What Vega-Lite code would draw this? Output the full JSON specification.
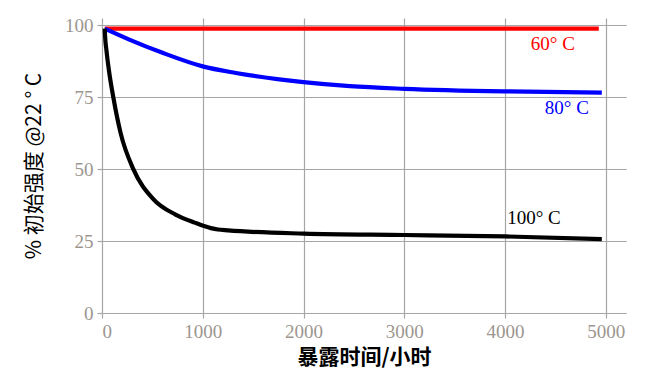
{
  "$schema": "https://vega.github.io/schema/vega-lite/v6.json",
  "width": 524,
  "height": 295,
  "autosize": {"type": "none"},
  "padding": {"left": 102, "top": 18, "right": 20, "bottom": 72},
  "background": "white",
  "config": {
    "view": {"stroke": null},
    "axis": {
      "domain": false,
      "grid": true,
      "gridColor": "#a6a6a6",
      "gridWidth": 1.2,
      "tickColor": "#a6a6a6",
      "tickWidth": 1.2,
      "tickSize": 5,
      "labelFont": "Liberation Serif",
      "labelFontSize": 19,
      "labelColor": "#9c968f",
      "titleColor": "#000000"
    }
  },
  "datasets": {
    "curves": [
      {"series": "60°C", "hours": 27, "strength": 98.8},
      {"series": "60°C", "hours": 4930, "strength": 98.8},
      {"series": "80°C", "hours": 27, "strength": 98.8},
      {"series": "80°C", "hours": 271, "strength": 95.0},
      {"series": "80°C", "hours": 601, "strength": 90.4},
      {"series": "80°C", "hours": 999, "strength": 85.7},
      {"series": "80°C", "hours": 1329, "strength": 83.4},
      {"series": "80°C", "hours": 2000, "strength": 80.2},
      {"series": "80°C", "hours": 2460, "strength": 78.8},
      {"series": "80°C", "hours": 3000, "strength": 77.9},
      {"series": "80°C", "hours": 4000, "strength": 77.0},
      {"series": "80°C", "hours": 4960, "strength": 76.6},
      {"series": "100°C", "hours": 27, "strength": 98.8},
      {"series": "100°C", "hours": 30, "strength": 96.5},
      {"series": "100°C", "hours": 45, "strength": 91.0},
      {"series": "100°C", "hours": 70, "strength": 84.0},
      {"series": "100°C", "hours": 112, "strength": 75.0},
      {"series": "100°C", "hours": 185, "strength": 62.5},
      {"series": "100°C", "hours": 311, "strength": 50.0},
      {"series": "100°C", "hours": 509, "strength": 39.6},
      {"series": "100°C", "hours": 730, "strength": 34.2},
      {"series": "100°C", "hours": 920, "strength": 31.4},
      {"series": "100°C", "hours": 1080, "strength": 29.5},
      {"series": "100°C", "hours": 1150, "strength": 29.0},
      {"series": "100°C", "hours": 1250, "strength": 28.7},
      {"series": "100°C", "hours": 2000, "strength": 27.6},
      {"series": "100°C", "hours": 3000, "strength": 27.1},
      {"series": "100°C", "hours": 4000, "strength": 26.6},
      {"series": "100°C", "hours": 4960, "strength": 25.7}
    ],
    "labels": [
      {"series": "60°C", "label": "60° C", "hours": 4474, "strength": 93.3},
      {"series": "80°C", "label": "80° C", "hours": 4613, "strength": 71.4},
      {"series": "100°C", "label": "100° C", "hours": 4286, "strength": 33.1}
    ]
  },
  "layer": [
    {
      "data": {"name": "curves"},
      "mark": {"type": "line", "interpolate": "monotone", "strokeWidth": 4.2, "strokeCap": "butt"},
      "encoding": {
        "x": {
          "field": "hours",
          "type": "quantitative",
          "scale": {"domain": [0, 5200], "nice": false, "zero": false},
          "axis": {
            "values": [0, 1000, 2000, 3000, 4000, 5000],
            "format": "d",
            "title": "暴露时间/小时",
            "titleFont": "Noto Sans CJK SC",
            "titleFontSize": 21,
            "titleFontWeight": "bold",
            "titlePadding": 5,
            "labelPadding": 4
          }
        },
        "y": {
          "field": "strength",
          "type": "quantitative",
          "scale": {"domain": [0, 102.5], "nice": false},
          "axis": {
            "values": [0, 25, 50, 75, 100],
            "title": "% 初始强度 @22 ° C",
            "titleFont": "Noto Sans CJK SC",
            "titleFontSize": 21,
            "titleFontWeight": "normal",
            "titlePadding": 20,
            "labelPadding": 4
          }
        },
        "color": {
          "field": "series",
          "type": "nominal",
          "scale": {"domain": ["60°C", "80°C", "100°C"], "range": ["#ff0000", "#0000ff", "#000000"]},
          "legend": null
        }
      }
    },
    {
      "data": {"name": "labels"},
      "mark": {"type": "text", "font": "Liberation Serif", "fontSize": 19, "align": "center", "baseline": "middle"},
      "encoding": {
        "x": {"field": "hours", "type": "quantitative"},
        "y": {"field": "strength", "type": "quantitative"},
        "text": {"field": "label"},
        "color": {
          "field": "series",
          "type": "nominal",
          "scale": {"domain": ["60°C", "80°C", "100°C"], "range": ["#ff0000", "#0000ff", "#000000"]},
          "legend": null
        }
      }
    }
  ]
}
